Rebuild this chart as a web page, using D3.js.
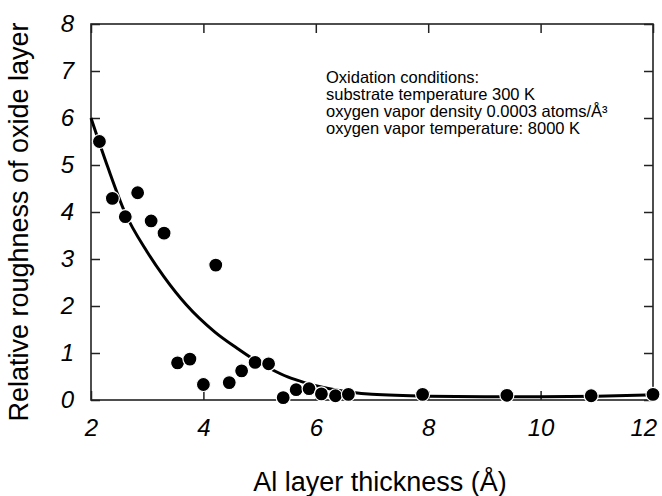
<!DOCTYPE html>
<html>
<head>
<meta charset="utf-8">
<script src="https://cdn.jsdelivr.net/npm/d3@7"></script>
<style>
  body { margin: 0; background: #fff; }
  svg { display: block; font-family: "Liberation Sans", Arial, sans-serif; }
</style>
</head>
<body>
<div id="chart"></div>
<script>
// measured points (Al thickness in Å, relative roughness)
var thickness = [2.15, 2.38, 2.61, 2.83, 3.07, 3.30, 3.54, 3.76, 4.0, 4.22, 4.46, 4.68, 4.92, 5.16, 5.42, 5.65, 5.88, 6.1, 6.35, 6.58, 7.9, 9.4, 10.9, 12.0];
var roughness = [5.50, 4.29, 3.90, 4.41, 3.81, 3.55, 0.79, 0.87, 0.33, 2.87, 0.37, 0.62, 0.80, 0.77, 0.05, 0.22, 0.24, 0.13, 0.09, 0.12, 0.12, 0.10, 0.09, 0.12];

// fitted curve
var fitX = [2.0, 2.3, 2.6, 3.0, 3.3, 3.7, 4.2, 4.6, 4.9, 5.2, 5.5, 5.8, 6.2, 6.6, 7.0, 8.0, 9.0, 10.0, 11.0, 12.0];
var fitY = [6.0, 4.95, 4.0, 3.15, 2.62, 2.02, 1.45, 1.1, 0.86, 0.66, 0.49, 0.37, 0.25, 0.17, 0.12, 0.08, 0.07, 0.07, 0.08, 0.11];

var xTicks = [2, 4, 6, 8, 10, 12];
var yTicks = [0, 1, 2, 3, 4, 5, 6, 7, 8];

var notes = [
  "Oxidation conditions:",
  "substrate temperature 300 K",
  "oxygen vapor density 0.0003 atoms/Å³",
  "oxygen vapor temperature: 8000 K"
];

var margin = {top: 24, right: 9, bottom: 96, left: 91},
    width = 662 - margin.left - margin.right,
    height = 496 - margin.top - margin.bottom;

var svg = d3.select("#chart")
    .append("svg")
    .attr("width", 662)
    .attr("height", 496);

var g = svg.append("g")
    .attr("transform", "translate(" + margin.left + "," + margin.top + ")");

var x = d3.scaleLinear().domain([2, 12]).range([0, width]);
var y = d3.scaleLinear().domain([0, 8]).range([height, 0]);

// ticks point inward on all four sides
var tickLen = 9;
g.append("g")
    .attr("class", "xaxis")
    .attr("transform", "translate(0," + height + ")")
    .call(d3.axisBottom(x).tickValues(xTicks).tickSizeInner(-tickLen).tickSizeOuter(0).tickPadding(19))
    .call(function(a){ a.select(".domain").remove(); });
g.append("g")
    .call(d3.axisTop(x).tickValues(xTicks).tickSizeInner(-tickLen).tickSizeOuter(0).tickFormat(""))
    .call(function(a){ a.select(".domain").remove(); });
g.append("g")
    .call(d3.axisLeft(y).tickValues(yTicks).tickSizeInner(-tickLen).tickSizeOuter(0).tickPadding(17))
    .call(function(a){ a.select(".domain").remove(); });
g.append("g")
    .attr("transform", "translate(" + width + ",0)")
    .call(d3.axisRight(y).tickValues(yTicks).tickSizeInner(-tickLen).tickSizeOuter(0).tickFormat(""))
    .call(function(a){ a.select(".domain").remove(); });

g.selectAll(".tick line")
    .attr("stroke", "#222")
    .attr("stroke-width", 1.5);
g.selectAll(".tick text")
    .attr("fill", "#000")
    .attr("font-size", "24px")
    .attr("font-style", "italic")
    .attr("font-family", "'Liberation Sans', Arial, sans-serif");
// last x label sits against the page edge, as in the original
g.selectAll(".xaxis .tick:last-of-type text")
    .attr("text-anchor", "end")
    .attr("dx", "0.15em");

// frame
g.append("rect")
    .attr("x", 0)
    .attr("y", 0)
    .attr("width", width)
    .attr("height", height)
    .attr("fill", "none")
    .attr("stroke", "#222")
    .attr("stroke-width", 1.6);

// fit curve
var line = d3.line()
    .x(function(d){ return x(d[0]); })
    .y(function(d){ return y(d[1]); })
    .curve(d3.curveMonotoneX);

g.append("path")
    .datum(d3.zip(fitX, fitY))
    .attr("d", line)
    .attr("fill", "none")
    .attr("stroke", "#000")
    .attr("stroke-width", 3);

// data points
g.selectAll("circle")
    .data(d3.zip(thickness, roughness))
    .enter()
    .append("circle")
      .attr("cx", function(d){ return x(d[0]); })
      .attr("cy", function(d){ return y(d[1]); })
      .attr("r", 7)
      .attr("fill", "#000")
      .attr("stroke", "#fff")
      .attr("stroke-width", 1.2);

// annotation block
g.append("text")
    .attr("font-size", "16.5px")
    .attr("fill", "#000")
    .selectAll("tspan")
    .data(notes)
    .enter()
    .append("tspan")
      .attr("x", 235)
      .attr("y", function(d, i){ return 59 + i * 17; })
      .text(function(d){ return d; });

// axis titles
svg.append("text")
    .attr("x", 380)
    .attr("y", 491)
    .attr("text-anchor", "middle")
    .attr("font-size", "27px")
    .attr("fill", "#000")
    .text("Al layer thickness (Å)");

svg.append("text")
    .attr("transform", "translate(28," + (margin.top + height / 2 + 10) + ") rotate(-90)")
    .attr("text-anchor", "middle")
    .attr("font-size", "27px")
    .attr("fill", "#000")
    .text("Relative roughness of oxide layer");
</script>
</body>
</html>
